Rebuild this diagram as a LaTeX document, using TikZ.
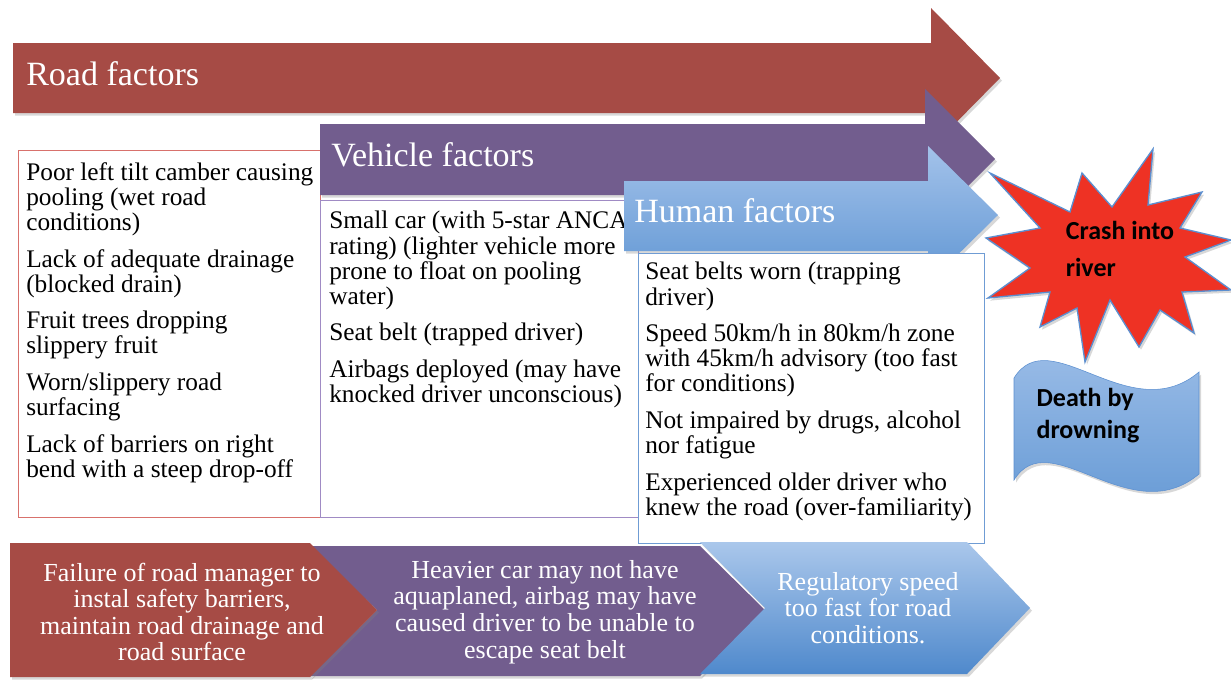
\documentclass[tikz,border=0pt]{standalone}
\usepackage{fontspec}
\setmainfont{Liberation Serif}
\newfontfamily\calibri{Carlito}
\usetikzlibrary{shadows}
\definecolor{roadred}{HTML}{A64B45}
\definecolor{vehpurple}{HTML}{725D8E}
\definecolor{humtop}{HTML}{A3C2EA}
\definecolor{humbot}{HTML}{6096D3}
\definecolor{chevtop}{HTML}{AAC7EB}
\definecolor{chevbot}{HTML}{4F89CC}
\definecolor{bangred}{HTML}{EE3224}
\definecolor{edgeblue}{HTML}{5B8FD0}
\definecolor{roadedge}{HTML}{D8716C}
\definecolor{vehedge}{HTML}{A08BC4}
\definecolor{humedge}{HTML}{6F9CD4}

\begin{document}
\begin{tikzpicture}[
  x=0.75pt, y=-0.75pt,
  softshadow/.style={drop shadow={opacity=0.3, shadow xshift=1.5pt, shadow yshift=-2pt}},
  headtext/.style={anchor=west, inner sep=0pt, text=white, font=\fontsize{25.5}{30}\selectfont},
  listtext/.style={anchor=north west, inner sep=0pt, align=left, font=\fontsize{19}{18.9}\selectfont},
  causetext/.style={inner sep=0pt, align=center, text=white, font=\fontsize{19.5}{19.9}\selectfont},
  boldtext/.style={inner sep=0pt, align=left, font=\calibri\bfseries\fontsize{19.5}{27.7}\selectfont}
]
  \fill[white] (0,0) rectangle (1231,679);
  \useasboundingbox (0,0) rectangle (1231,679);

  \fill[roadred, softshadow] (13,43) -- (931,43) -- (931,8) -- (1000,78) -- (931,148) -- (931,113) -- (13,113) -- cycle;
  \node[headtext] (road) at (26,74) {Road factors};
  \draw[roadedge] (18,150) rectangle (320,517);
  \node[listtext] (roadlist) at (26,162) {Poor left tilt camber causing\\pooling (wet road\\conditions)\\[8.5pt]Lack of adequate drainage\\(blocked drain)\\[8.5pt]Fruit trees dropping\\slippery fruit\\[8.5pt]Worn/slippery road\\surfacing\\[8.5pt]Lack of barriers on right\\bend with a steep drop-off};

  \fill[vehpurple, softshadow] (320,124) -- (925,124) -- (925,89) -- (995,159) -- (925,229) -- (925,195) -- (320,195) -- cycle;
  \node[headtext] (vehicle) at (331,155) {Vehicle factors};
  \draw[vehedge] (320,200) rectangle (638,517);
  \node[listtext] (vehiclelist) at (329,211) {Small car (with 5-star ANCAP\\rating) (lighter vehicle more\\prone to float on pooling\\water)\\[8.5pt]Seat belt (trapped driver)\\[8.5pt]Airbags deployed (may have\\knocked driver unconscious)};

  \path[top color=humtop, bottom color=humbot, softshadow] (624,181) -- (928,181) -- (928,146) -- (998,215) -- (928,284) -- (928,251) -- (624,251) -- cycle;
  \node[headtext] (human) at (634,211) {Human factors};
  \draw[humedge, fill=white] (638,253) rectangle (984,543);
  \node[listtext] (humanlist) at (645,262) {Seat belts worn (trapping\\driver)\\[8.5pt]Speed 50km/h in 80km/h zone\\with 45km/h advisory (too fast\\for conditions)\\[8.5pt]Not impaired by drugs, alcohol\\nor fatigue\\[8.5pt]Experienced older driver who\\knew the road (over-familiarity)};

  \draw[fill=bangred, draw=edgeblue, line width=1pt, softshadow] (1153,149) -- (1148,205) -- (1202,192) -- (1180,228) -- (1231,240) -- (1185,257) -- (1231,290) -- (1182,292) -- (1194,333) -- (1160,310) -- (1139,347) -- (1110,300) -- (1085,362) -- (1077,308) -- (1040,327) -- (1050,292) -- (988,298) -- (1030,268) -- (986,238) -- (1040,228) -- (990,173) -- (1070,212) -- (1082,173) -- (1112,207) -- cycle;
  \node[boldtext] (crash) at (1120,249) {Crash into\\river};

  \path[top color=humtop, bottom color=humbot, draw=edgeblue, softshadow] (1014,378) .. controls (1050,320) and (1130,430) .. (1199,372) -- (1199,474) .. controls (1130,532) and (1050,422) .. (1014,480) -- cycle;
  \node[boldtext, font=\calibri\bfseries\fontsize{19.5}{24}\selectfont] (death) at (1088,416) {Death by\\drowning};

  \fill[vehpurple, softshadow] (310,546) -- (700,546) -- (765,610) -- (700,676) -- (310,676) -- (377,610) -- cycle;
  \fill[roadred, softshadow] (10,543) -- (310,543) -- (377,610) -- (310,677) -- (10,677) -- cycle;
  \path[top color=chevtop, bottom color=chevbot, softshadow] (700,542) -- (967,542) -- (1030,608) -- (967,674) -- (700,674) -- (765,608) -- cycle;
  \node[causetext] (roadcause) at (182,612) {Failure of road manager to\\instal safety barriers,\\maintain road drainage and\\road surface};
  \node[causetext] (vehiclecause) at (545,612) {Heavier car may not have\\aquaplaned, airbag may have\\caused driver to be unable to\\escape seat belt};
  \node[causetext] (humancause) at (868,608) {Regulatory speed\\too fast for road\\conditions.};
\end{tikzpicture}
\end{document}
